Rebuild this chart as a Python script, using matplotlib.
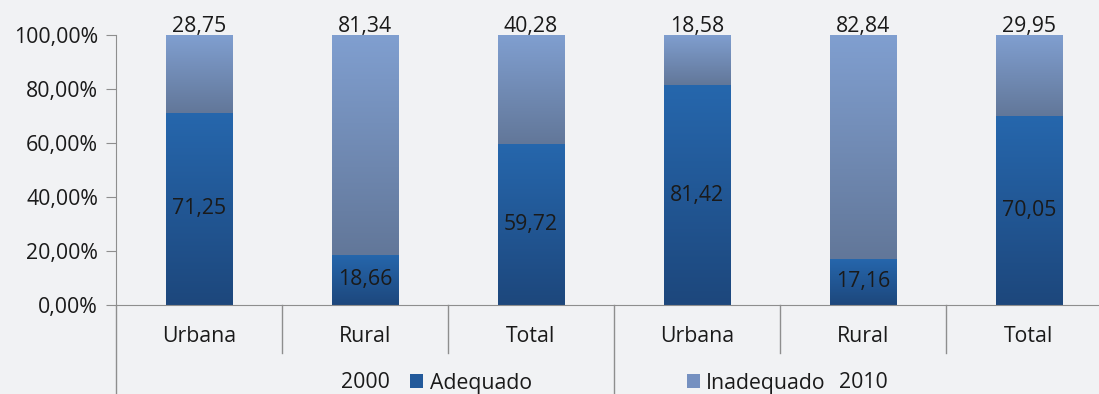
import numpy as np
import matplotlib.pyplot as plt
from matplotlib.colors import LinearSegmentedColormap
from matplotlib.patches import Patch
from matplotlib.ticker import FuncFormatter
import matplotlib.transforms as mtransforms

plt.rcParams['font.family'] = ['Open Sans', 'DejaVu Sans']

categories = ['Urbana', 'Rural', 'Total', 'Urbana', 'Rural', 'Total']
years = ['2000', '2010']
adequado = [71.25, 18.66, 59.72, 81.42, 17.16, 70.05]
inadequado = [28.75, 81.34, 40.28, 18.58, 82.84, 29.95]

BG = '#f1f2f4'
AXIS = '#8e8e8e'
TXT = '#1a1a1a'
FS = 15.3

# gradients run top -> bottom of each segment
cm_adeq = LinearSegmentedColormap.from_list('adeq', ['#2667ad', '#1d477c'])
cm_inad = LinearSegmentedColormap.from_list('inad', ['#809fd0', '#627799'])


def fmt(v):
    return f'{v:.2f}'.replace('.', ',')


fig = plt.figure(figsize=(10.99, 3.94), dpi=100, facecolor=BG)
ax = fig.add_axes([116 / 1099, 89 / 394, 996 / 1099, 270 / 394])
ax.set_facecolor(BG)

x = np.arange(len(categories))
w = 0.40
bars_a = ax.bar(x, adequado, w, color='none', label='Adequado')
bars_i = ax.bar(x, inadequado, w, bottom=adequado, color='none', label='Inadequado')

grad = np.linspace(0, 1, 256).reshape(-1, 1)
for bars, cmap in ((bars_a, cm_adeq), (bars_i, cm_inad)):
    for b in bars:
        x0, y0 = b.get_x(), b.get_y()
        ax.imshow(grad, cmap=cmap, aspect='auto', origin='upper',
                  extent=(x0, x0 + b.get_width(), y0, y0 + b.get_height()),
                  zorder=2)
ax.set_xlim(-0.5, len(categories) - 0.5)
ax.set_ylim(0, 100)

# value labels
for xi, a, i in zip(x, adequado, inadequado):
    ax.text(xi, a / 2, fmt(a), ha='center', va='center', fontsize=FS, color=TXT, zorder=3)
    ax.annotate(fmt(i), (xi, a + i), xytext=(0, 2), textcoords='offset points',
                ha='center', va='baseline', fontsize=FS, color=TXT, zorder=3)

# axes styling
for s in ('top', 'right'):
    ax.spines[s].set_visible(False)
for s in ('left', 'bottom'):
    ax.spines[s].set_color(AXIS)
ax.set_yticks(np.arange(0, 101, 20))
ax.yaxis.set_major_formatter(FuncFormatter(lambda v, p: fmt(v) + '%'))
ax.tick_params(axis='y', length=7, color=AXIS, labelsize=FS, labelcolor=TXT, pad=6)
ax.set_xticks([])

# two-level category axis
tr = mtransforms.blended_transform_factory(ax.transData, ax.transAxes)
px = 1 / 270
for xs in (0.5, 1.5, 3.5, 4.5):
    ax.plot([xs, xs], [0, -48 * px], color=AXIS, lw=1, transform=tr, clip_on=False)
for xs in (-0.5, 2.5, 5.5):
    ax.plot([xs, xs], [0, -95 * px], color=AXIS, lw=1, transform=tr, clip_on=False)
for xi, c in zip(x, categories):
    ax.text(xi, -31 * px, c, ha='center', va='center', fontsize=FS, color=TXT, transform=tr)
for k, yr in enumerate(years):
    ax.text(3 * k + 1, -78 * px, yr, ha='center', va='center', fontsize=FS, color=TXT, transform=tr)

handles = [Patch(facecolor='#22599a', edgecolor='none', label='Adequado'),
           Patch(facecolor='#7590c0', edgecolor='none', label='Inadequado')]
fig.legend(handles=handles, loc='center', bbox_to_anchor=(618 / 1099, 11 / 394), ncol=2,
           frameon=False, fontsize=FS, handlelength=0.6, handleheight=0.6,
           handletextpad=0.3, columnspacing=7.3, labelcolor=TXT)

fig.savefig('out.png', dpi=100, facecolor=BG)
